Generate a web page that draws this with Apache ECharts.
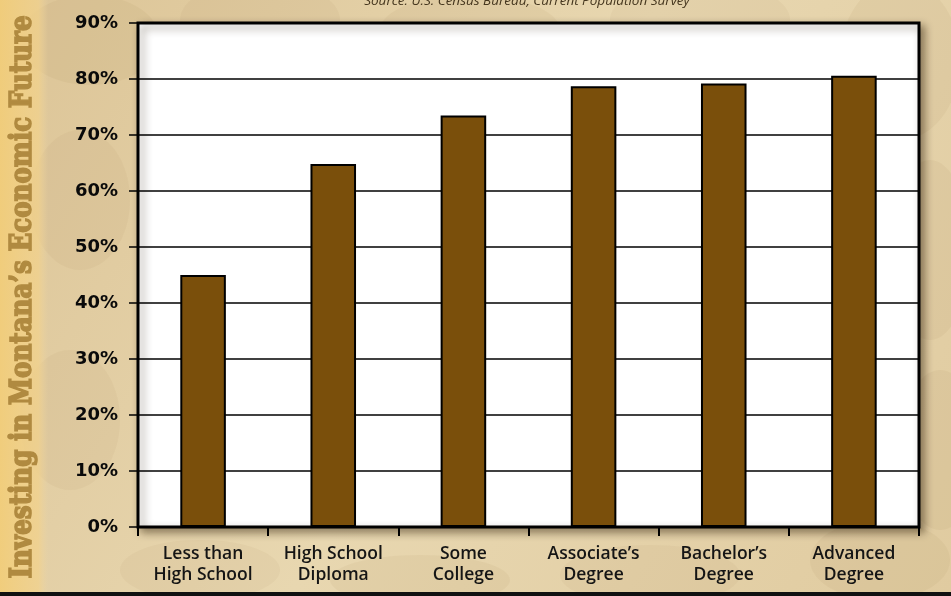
<!DOCTYPE html>
<html>
<head>
<meta charset="utf-8">
<script src="https://cdn.jsdelivr.net/npm/echarts@6/dist/echarts.min.js"></script>
<style>
html,body{margin:0;padding:0;background:#e6d3a8;}
#c{width:951px;height:596px;}
</style>
</head>
<body>
<div id="c"></div>
<script>
const categories = ['Less than\nHigh School', 'High School\nDiploma', 'Some\nCollege', 'Associate\u2019s\nDegree', 'Bachelor\u2019s\nDegree', 'Advanced\nDegree'];
const values = [45.0, 64.8, 73.5, 78.7, 79.2, 80.6];
const yTicks = [0, 10, 20, 30, 40, 50, 60, 70, 80, 90];
const titleText = 'Investing in Montana\u2019s Economic Future';
const sourceText = 'Source: U.S. Census Bureau, Current Population Survey';

const chart = echarts.init(document.getElementById('c'), null, {renderer: 'canvas'});

const blobs = [
  [90,40,70,45,0.06],[260,20,80,40,0.05],[470,30,90,35,0.06],[700,20,90,40,0.05],[900,60,60,80,0.06],
  [80,200,50,70,0.05],[930,250,40,90,0.06],[70,420,50,70,0.05],[940,450,40,80,0.06],
  [200,570,80,30,0.05],[420,580,90,25,0.06],[650,575,90,30,0.05],[880,560,70,40,0.06]
];

const option = {
  backgroundColor: {
    type: 'linear', x: 0, y: 0, x2: 1, y2: 1,
    colorStops: [
      {offset: 0, color: '#dcc496'},
      {offset: 0.5, color: '#e8d7b0'},
      {offset: 1, color: '#e0cba0'}
    ]
  },
  graphic: [
    ...blobs.map(b => ({
      type: 'ellipse', z: -10, silent: true,
      shape: {cx: b[0], cy: b[1], rx: b[2], ry: b[3]},
      style: {fill: 'rgba(140,100,50,' + b[4] + ')'}
    })),
    {
      type: 'rect', z: -9, silent: true,
      shape: {x: 0, y: 0, width: 48, height: 596},
      style: {fill: {type: 'linear', x: 0, y: 0, x2: 1, y2: 0, colorStops: [
        {offset: 0, color: 'rgba(242,205,120,0.9)'},
        {offset: 0.8, color: 'rgba(242,210,140,0.75)'},
        {offset: 1, color: 'rgba(240,215,160,0)'}
      ]}}
    },
    {
      type: 'text', z: 10, silent: true,
      x: 23, y: 297, rotation: Math.PI / 2, scaleX: 0.82,
      style: {
        text: titleText, fill: '#b08a40',
        stroke: '#b08a40', lineWidth: 1.6,
        font: 'bold 30px "DejaVu Serif"',
        align: 'center', verticalAlign: 'middle'
      }
    },
    {
      type: 'text', z: 10, silent: true,
      x: 527, y: -6,
      style: {
        text: sourceText, fill: '#45361e',
        font: 'italic 13.5px "Open Sans"',
        align: 'center', verticalAlign: 'top'
      }
    },
    {
      type: 'rect', z: 10, silent: true,
      shape: {x: 0, y: 592, width: 951, height: 4},
      style: {fill: '#111'}
    }
  ],
  grid: {
    left: 138, right: 32, top: 23, bottom: 69,
    show: true, backgroundColor: '#ffffff',
    borderColor: '#000', borderWidth: 3,
    shadowColor: 'rgba(40,25,5,0.45)', shadowBlur: 8, shadowOffsetX: 4, shadowOffsetY: 4
  },
  xAxis: {
    type: 'category', data: categories,
    axisLine: {show: true, lineStyle: {color: '#000', width: 2}},
    axisTick: {show: true, length: 9, lineStyle: {color: '#000', width: 2}},
    axisLabel: {
      color: '#151515', fontSize: 17.5, fontFamily: 'Open Sans', fontWeight: 600,
      lineHeight: 21, margin: 17, interval: 0
    },
    splitLine: {show: false}
  },
  yAxis: {
    type: 'value', min: 0, max: 90, interval: 10,
    axisLine: {show: true, lineStyle: {color: '#000', width: 2}},
    axisTick: {show: true, length: 9, lineStyle: {color: '#000', width: 1.5}},
    axisLabel: {
      formatter: v => yTicks.includes(v) ? v + '%' : '',
      color: '#0a0a0a', fontSize: 18, fontWeight: 'bold', fontFamily: 'DejaVu Sans', margin: 20
    },
    splitLine: {show: true, lineStyle: {color: '#000', width: 1.5}}
  },
  series: [{
    type: 'bar', data: values, barWidth: '35%',
    itemStyle: {color: '#7a4f0b', borderColor: '#000', borderWidth: 2},
    z: 5
  }],
  animation: false
};
chart.setOption(option);
</script>
</body>
</html>
